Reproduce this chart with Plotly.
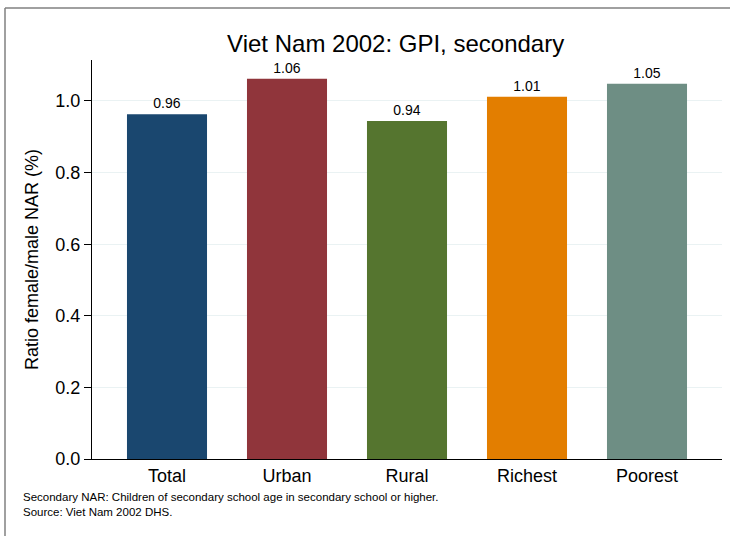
import plotly.graph_objects as go

# data
categories = ["Total", "Urban", "Rural", "Richest", "Poorest"]
gpi_values = [0.963, 1.062, 0.944, 1.012, 1.048]
bar_labels = ["0.96", "1.06", "0.94", "1.01", "1.05"]
bar_colors = ["#1a476f", "#90353b", "#55752f", "#e37e00", "#6e8e84"]
y_ticks = [0.0, 0.2, 0.4, 0.6, 0.8, 1.0]

FONT = "Liberation Sans, Arial, sans-serif"

# plot area in pixels: x 92..722, y 60..459
L, R, T, B = 92, 8, 60, 77
PW = 730 - L - R
PH = 536 - T - B


def px_x(x):
    return (x - L) / PW


def px_y(y):
    return (536 - B - y) / PH


fig = go.Figure()
fig.add_trace(
    go.Bar(
        x=categories,
        y=gpi_values,
        marker_color=bar_colors,
        marker_line_width=0,
        width=0.667,
        text=bar_labels,
        textposition="outside",
        textfont=dict(size=14, color="#000000"),
        cliponaxis=False,
        hovertemplate="%{x}: %{y:.2f}<extra></extra>",
    )
)

fig.update_layout(
    width=730,
    height=536,
    margin=dict(l=L, r=R, t=T, b=B),
    paper_bgcolor="white",
    plot_bgcolor="white",
    font=dict(family=FONT, color="#000000"),
    showlegend=False,
    title=dict(
        text="Viet Nam 2002: GPI, secondary",
        x=0.542,
        xanchor="center",
        y=0.918,
        yanchor="middle",
        font=dict(size=24, color="#000000"),
    ),
)

fig.update_xaxes(
    range=[-0.625, 4.625],
    showline=True,
    linecolor="#000000",
    linewidth=1,
    ticks="",
    tickfont=dict(size=18),
    showgrid=False,
)
fig.update_yaxes(
    range=[0, 1.1145],
    tickvals=y_ticks,
    ticktext=[f"{v:.1f}" for v in y_ticks],
    ticks="outside",
    ticklen=7,
    tickcolor="#000000",
    tickfont=dict(size=18),
    showline=True,
    linecolor="#000000",
    linewidth=1,
    showgrid=True,
    gridcolor="#eaf2f3",
    gridwidth=1,
    zeroline=False,
    title=dict(text="Ratio female/male NAR (%)", font=dict(size=18), standoff=12),
)

# notes under the chart
fig.add_annotation(
    text="Secondary NAR: Children of secondary school age in secondary school or higher.<br>Source: Viet Nam 2002 DHS.",
    xref="paper", yref="paper",
    x=px_x(21), y=px_y(489),
    xanchor="left", yanchor="top",
    align="left",
    showarrow=False,
    font=dict(size=11.5, color="#000000"),
)

# outer graph frame (top and left edges visible in the reference)
fig.add_shape(type="line", xref="paper", yref="paper",
              x0=px_x(5), x1=px_x(740), y0=px_y(8), y1=px_y(8),
              line=dict(color="#808080", width=1.5))
fig.add_shape(type="line", xref="paper", yref="paper",
              x0=px_x(5), x1=px_x(5), y0=px_y(8), y1=px_y(545),
              line=dict(color="#808080", width=1.5))

# drop the browser's default body margin so the figure sits at the page corner
fig.write_html(
    "out.html",
    config={"displayModeBar": False},
    post_script="document.body.style.margin='0';",
)
